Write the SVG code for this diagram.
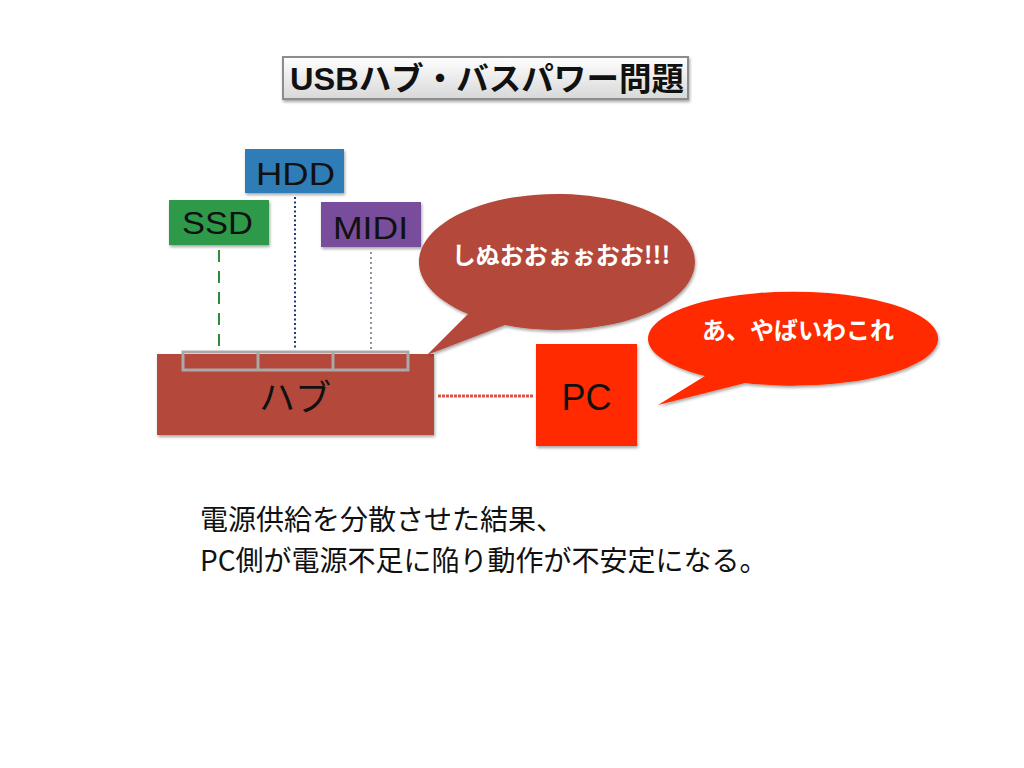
<svg xmlns="http://www.w3.org/2000/svg" width="1024" height="768" viewBox="0 0 1024 768">
<defs>
<linearGradient id="tg" x1="0" y1="0" x2="0" y2="1">
<stop offset="0" stop-color="#ffffff"/>
<stop offset="1" stop-color="#d8d8d8"/>
</linearGradient>
<filter id="sh" x="-10%" y="-10%" width="130%" height="140%">
<feDropShadow dx="1" dy="2" stdDeviation="1.5" flood-color="#000" flood-opacity="0.35"/>
</filter>
</defs>
<style>
.lat{font-family:"Liberation Sans","Noto Sans CJK JP",sans-serif;fill:#111;}
.jp{font-family:"Noto Sans CJK JP",sans-serif;}
.bub{font-family:"Noto Sans CJK JP",sans-serif;font-weight:bold;fill:#fff;text-anchor:middle;}
.port{fill:none;stroke:#a9a9a9;stroke-width:3;}
</style>
<rect width="1024" height="768" fill="#ffffff"/>
<g id="title">
<rect x="283" y="57" width="405" height="42" fill="url(#tg)" stroke="#8c8c8c" stroke-width="2" filter="url(#sh)"/>
<text x="487" y="90" class="lat" font-size="32" font-weight="bold" text-anchor="middle" textLength="394" lengthAdjust="spacingAndGlyphs">USBハブ・バスパワー問題</text>
</g>
<g id="connectors">
<line x1="219" y1="250" x2="219" y2="350" stroke="#2e8b3a" stroke-width="2" stroke-dasharray="12,9"/>
<line x1="295" y1="197" x2="295" y2="350" stroke="#1f3a7a" stroke-width="2" stroke-dasharray="2,2.5"/>
<line x1="371" y1="252" x2="371" y2="350" stroke="#7a6a8a" stroke-width="1.5" stroke-dasharray="2,3"/>
<line x1="438" y1="396" x2="534" y2="396" stroke="#d9534a" stroke-width="3" stroke-dasharray="3,1"/>
</g>
<g id="hdd">
<rect x="245" y="149" width="99" height="44" fill="#2f7db6" filter="url(#sh)"/>
<text x="256" y="185" class="lat" font-size="31" textLength="79" lengthAdjust="spacingAndGlyphs">HDD</text>
</g>
<g id="ssd">
<rect x="169" y="200" width="100" height="45" fill="#2e9a48" filter="url(#sh)"/>
<text x="182" y="234" class="lat" font-size="31" textLength="71" lengthAdjust="spacingAndGlyphs">SSD</text>
</g>
<g id="midi">
<rect x="321" y="202" width="100" height="45" fill="#774d9c" filter="url(#sh)"/>
<text x="333" y="239" class="lat" font-size="31" textLength="75" lengthAdjust="spacingAndGlyphs">MIDI</text>
</g>
<g id="hub">
<rect x="157" y="354" width="277" height="81" fill="#b4483a" filter="url(#sh)"/>
<rect x="183" y="352" width="225" height="18" class="port"/>
<line x1="258" y1="352" x2="258" y2="370" class="port"/>
<line x1="333" y1="352" x2="333" y2="370" class="port"/>
<text x="295" y="411" class="jp" font-size="36" fill="#111" text-anchor="middle">ハブ</text>
</g>
<g id="pc">
<rect x="536" y="344" width="101" height="102" fill="#ff2a00" filter="url(#sh)"/>
<text x="586.5" y="410" class="lat" font-size="36" text-anchor="middle">PC</text>
</g>
<g id="bubble1">
<path d="M 427 355 L 468 314 A 138 68 0 1 1 505 325 Z" fill="#b4483a" filter="url(#sh)"/>
<text x="561" y="264" class="bub" font-size="24">しぬおおぉぉおお!!!</text>
</g>
<g id="bubble2">
<path d="M 658 405 L 705 376 A 145 47 0 1 1 745 383 Z" fill="#ff2a00" filter="url(#sh)"/>
<text x="798" y="339" class="bub" font-size="24">あ、やばいわこれ</text>
</g>
<g id="caption" class="jp" font-size="28" fill="#111">
<text x="200" y="530">電源供給を分散させた結果、</text>
<text x="200" y="571">PC側が電源不足に陥り動作が不安定になる。</text>
</g>
</svg>
